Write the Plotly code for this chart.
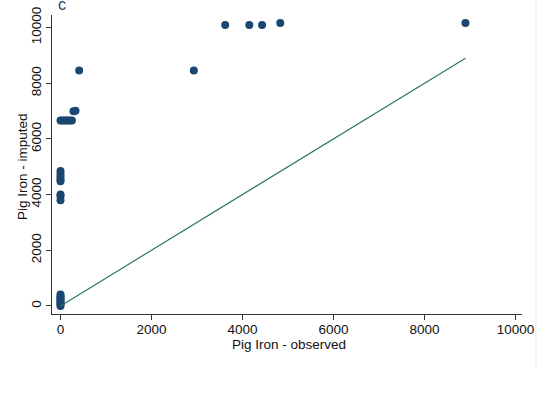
import plotly.graph_objects as go

# Observed vs imputed pig iron values
observed = [0, 0, 0, 0, 0, 0, 0, 0, 0,
            0, 0, 0, 0, 0,
            0, 0, 0,
            0, 40, 80, 120, 160, 200, 250,
            285, 330,
            410, 2930,
            3620, 4150, 4430, 4830, 8900]
imputed = [0, 50, 100, 150, 200, 250, 300, 350, 410,
           4850, 4750, 4650, 4550, 4480,
           4000, 3950, 3800,
           6660, 6660, 6660, 6660, 6660, 6660, 6660,
           6990, 7010,
           8460, 8460,
           10090, 10090, 10090, 10160, 10160]

# 45-degree reference line from 0 to max observed
line_x = [0, max(observed)]
line_y = [0, max(observed)]

x_ticks = [0, 2000, 4000, 6000, 8000, 10000]
y_ticks = [0, 2000, 4000, 6000, 8000, 10000]

FONT = "Liberation Sans, Arial, Helvetica, sans-serif"

fig = go.Figure()
fig.add_trace(go.Scatter(x=observed, y=imputed, mode="markers",
                         marker=dict(color="#1a476f", size=8, line=dict(width=0)),
                         showlegend=False, cliponaxis=False))
fig.add_trace(go.Scatter(x=line_x, y=line_y, mode="lines",
                         line=dict(color="#2e7566", width=1.2),
                         showlegend=False))

axis_font = dict(family=FONT, size=13.5, color="#111")
fig.update_layout(
    width=542, height=394,
    margin=dict(l=52, r=20, t=15, b=80, autoexpand=False),
    paper_bgcolor="white", plot_bgcolor="white",
    font=axis_font,
    xaxis=dict(range=[-187, 10143], tickvals=x_ticks, ticktext=[str(v) for v in x_ticks],
               showgrid=False, zeroline=False, showline=True, linecolor="#333", linewidth=1,
               ticks="outside", ticklen=5, tickcolor="#333", ticklabelstandoff=-2,
               automargin=False),
    yaxis=dict(range=[-290, 10450], tickvals=y_ticks, ticktext=[str(v) for v in y_ticks],
               showgrid=False, zeroline=False, showline=True, linecolor="#333", linewidth=1,
               ticks="outside", ticklen=5, tickcolor="#333", tickangle=-90,
               automargin=False),
    annotations=[
        dict(text="c", xref="paper", yref="paper", x=0.0085, y=(314 - 15) / 299,
             xanchor="left", yanchor="bottom", showarrow=False,
             font=dict(family=FONT, size=16, color="#1a476f")),
        dict(text="Pig Iron - observed", xref="paper", yref="paper",
             x=(289 - 52) / 470, y=-(344 - 314) / 299, xanchor="center", yanchor="middle",
             showarrow=False, font=axis_font),
        dict(text="Pig Iron - imputed", xref="paper", yref="paper",
             x=-(52 - 22) / 470, y=(314 - 167) / 299, xanchor="center", yanchor="middle",
             textangle=-90, showarrow=False, font=axis_font),
    ],
    shapes=[dict(type="line", xref="paper", yref="paper", x0=1.0298, x1=1.0298, y0=-0.177, y1=1.06,
                 line=dict(color="#e6ecf0", width=1))],
)

fig.write_html("out.html")
